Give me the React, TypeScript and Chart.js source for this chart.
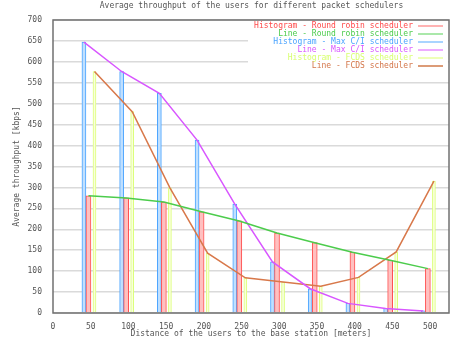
import React, { useEffect, useRef } from "react";
import { Chart, registerables } from "chart.js";

Chart.register(...registerables);

const distances = [50, 100, 150, 200, 250, 300, 350, 400, 450, 500];
const roundRobin = [280, 275, 265, 242, 220, 191, 168, 145, 126, 106];
const maxCI = [647, 577, 525, 413, 260, 122, 58, 23, 11, 5];
const fcds = [577, 481, 299, 143, 84, 74, 64, 85, 146, 315];
const xTicks = [0, 50, 100, 150, 200, 250, 300, 350, 400, 450, 500];
const yTicks = [0, 50, 100, 150, 200, 250, 300, 350, 400, 450, 500, 550, 600, 650, 700];

const seriesNames = [
  "Histogram - Round robin scheduler",
  "Line - Round robin scheduler",
  "Histogram - Max C/I scheduler",
  "Line - Max C/I scheduler",
  "Histogram - FCDS scheduler",
  "Line - FCDS scheduler",
];

const OFF_CI = -9;
const OFF_RR = -3;
const OFF_FC = 5;

const FONT = "DejaVu Sans Mono";
const TEXT = "#555555";
const legendColors = ["#ff4a4a", "#4ccc4c", "#4aa4ff", "#d856ff", "#d8ff70", "#d4764a"];
const sampleColors = ["#ff9a9a", "#8ee08e", "#8cc6ff", "#e890ff", "#e8ffa0", "#d07a4a"];

const pts = (vals: number[], off: number) => vals.map((v, i) => ({ x: distances[i] + off, y: v }));

const overlay = {
  id: "overlay",
  beforeDatasetsDraw(chart: any) {
    const { ctx, chartArea } = chart;
    ctx.save();
    ctx.fillStyle = "#ffffff";
    ctx.fillRect(248, chartArea.top + 1, chartArea.right - 248 - 1, 50);
    ctx.restore();
  },
  afterDraw(chart: any) {
    const { ctx, chartArea } = chart;
    ctx.save();
    ctx.strokeStyle = "#707070";
    ctx.lineWidth = 1.5;
    ctx.strokeRect(chartArea.left, chartArea.top, chartArea.right - chartArea.left, chartArea.bottom - chartArea.top);
    ctx.font = `8px "${FONT}"`;
    ctx.textBaseline = "middle";
    ctx.textAlign = "right";
    seriesNames.forEach((name, i) => {
      const y = 26 + i * 8;
      ctx.fillStyle = legendColors[i];
      ctx.fillText(name, 413, y);
      ctx.strokeStyle = sampleColors[i];
      ctx.lineWidth = 1.5;
      ctx.beginPath();
      ctx.moveTo(418, y);
      ctx.lineTo(443, y);
      ctx.stroke();
    });
    ctx.fillStyle = TEXT;
    ctx.textAlign = "center";
    ctx.fillText("Average throughput of the users for different packet schedulers", 251.5, 6);
    ctx.fillText("Distance of the users to the base station [meters]", 251, 334);
    ctx.translate(17, (chartArea.top + chartArea.bottom) / 2);
    ctx.rotate(-Math.PI / 2);
    ctx.fillText("Average throughput [kbps]", 0, 0);
    ctx.restore();
  },
};

export default function App() {
  const ref = useRef<HTMLCanvasElement | null>(null);
  useEffect(() => {
    if (!ref.current) return;
    const chart = new Chart(ref.current, {
      type: "bar",
      data: {
        datasets: [
          {
            type: "bar",
            label: seriesNames[0],
            data: pts(roundRobin, OFF_RR),
            backgroundColor: "#ffc0c0",
            borderColor: "#ff5050",
            borderWidth: 1,
            barThickness: 5,
            grouped: false,
            order: 3,
          },
          {
            type: "line",
            label: seriesNames[1],
            data: pts(roundRobin, OFF_RR),
            borderColor: "#4ccc4c",
            borderWidth: 1.5,
            pointRadius: 0,
            tension: 0,
            fill: false,
            order: 1,
          },
          {
            type: "bar",
            label: seriesNames[2],
            data: pts(maxCI, OFF_CI),
            backgroundColor: "#c0e0ff",
            borderColor: "#4aa4ff",
            borderWidth: 1,
            barThickness: 4,
            grouped: false,
            order: 3,
          },
          {
            type: "line",
            label: seriesNames[3],
            data: pts(maxCI, OFF_CI),
            borderColor: "#d856ff",
            borderWidth: 1.5,
            pointRadius: 0,
            tension: 0,
            fill: false,
            order: 1,
          },
          {
            type: "bar",
            label: seriesNames[4],
            data: pts(fcds, OFF_FC),
            backgroundColor: "#f8ffdc",
            borderColor: "#dcff78",
            borderWidth: 1,
            barThickness: 3,
            grouped: false,
            order: 3,
          },
          {
            type: "line",
            label: seriesNames[5],
            data: pts(fcds, OFF_FC),
            borderColor: "#d8784a",
            borderWidth: 1.5,
            pointRadius: 0,
            tension: 0,
            fill: false,
            order: 1,
          },
        ] as any,
      },
      options: {
        animation: false,
        responsive: false,
        layout: { padding: { top: 20, right: 4, left: 0, bottom: 0 } },
        plugins: { legend: { display: false }, title: { display: false }, tooltip: { enabled: false } },
        scales: {
          x: {
            type: "linear",
            min: 0,
            max: 525,
            offset: false,
            grid: { display: false },
            border: { display: false },
            afterFit: (s: any) => { s.height = 32; },
            afterBuildTicks: (s: any) => { s.ticks = xTicks.map((v) => ({ value: v })); },
            ticks: {
              autoSkip: false,
              maxRotation: 0,
              padding: 1,
              color: TEXT,
              font: { family: FONT, size: 8 },
            },
          },
          y: {
            type: "linear",
            min: 0,
            max: 700,
            grid: { color: "#dadada", lineWidth: 1.5, drawTicks: false },
            border: { display: false },
            afterFit: (s: any) => { s.width = 53; },
            afterBuildTicks: (s: any) => { s.ticks = yTicks.map((v) => ({ value: v })); },
            ticks: {
              autoSkip: false,
              padding: 11,
              color: TEXT,
              font: { family: FONT, size: 8 },
            },
          },
        },
      } as any,
      plugins: [overlay],
    });
    return () => chart.destroy();
  }, []);
  return (
    <div style={{ position: "absolute", left: 0, top: 0, width: 453, height: 345, background: "#fff" }}>
      <canvas ref={ref} width={453} height={345} style={{ display: "block" }} />
    </div>
  );
}
